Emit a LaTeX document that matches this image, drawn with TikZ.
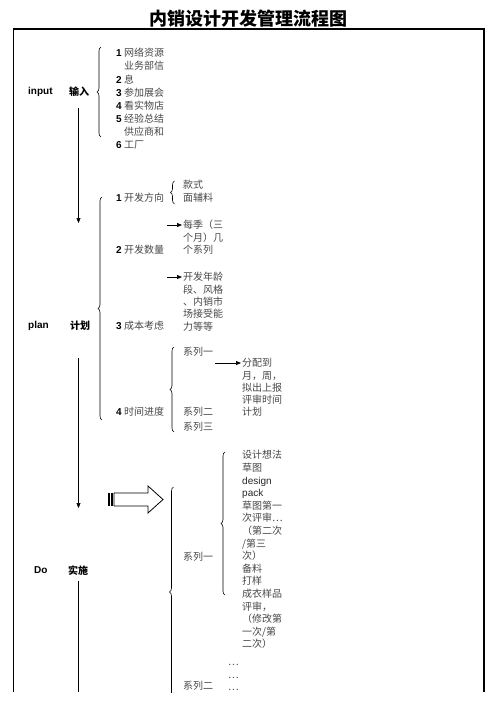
\documentclass[tikz,border=0pt]{standalone}
\usepackage{fontspec}
\setmainfont{Liberation Sans}
\newfontfamily\cjk{Noto Sans CJK SC}
\usetikzlibrary{arrows.meta,decorations.pathreplacing}
\newcommand\nb[1]{{\rmfamily\bfseries\color{black}#1}}
\newcommand\ind{\hphantom{\nb{1}\ }}
\newcommand\lat[1]{{\rmfamily\color{black!85}#1}}
\newcommand\stk[5]{\foreach \itm [count=\i] in {#5}{\node[tx] (#1\i) at (#2,{#3+(\i-1)*(#4)}) {\itm};}}
\begin{document}
\begin{tikzpicture}[x=1pt,y=-1pt,
  txt/.style={inner sep=0pt, font=\cjk\fontsize{10}{12}\selectfont, text=black!72},
  tx/.style={txt, anchor=base west},
  lab/.style={inner sep=0pt, font=\bfseries\fontsize{10}{12}\selectfont, anchor=base west},
  cnlab/.style={inner sep=0pt, font=\cjk\bfseries\fontsize{10}{12}\selectfont, anchor=base west},
  arr/.style={-{Triangle[length=5pt,width=4pt]}, line width=0.7pt},
  brc/.style={decorate, decoration={brace, amplitude=4pt}, line width=0.6pt},
  frm/.style={line width=1.8pt}]
\useasboundingbox (0,0) rectangle (496,702);
% title and frame
\node[font=\cjk\bfseries\fontsize{18}{20}\selectfont, anchor=base, inner sep=0pt] (title) at (248.5,25.5) {内销设计开发管理流程图};
\draw[frm] (13.5,692) -- (13.5,29) -- (484,29) -- (484,692);
% stage labels
\node[lab] (lin) at (28,94) {input};
\node[cnlab] (cin) at (69,95) {输入};
\node[lab] (lpl) at (28,328) {plan};
\node[cnlab] (cpl) at (70,329) {计划};
\node[lab] (ldo) at (34,573.6) {Do};
\node[cnlab] (cdo) at (68,574) {实施};
% stage connectors
\coordinate (a1s) at (78.5,108);
\coordinate (a1e) at (78.5,223);
\coordinate (a2s) at (78.5,358);
\coordinate (a2e) at (78.5,508);
\coordinate (a3s) at (78.5,581);
\coordinate (a3e) at (78.5,692);
\draw[arr] (a1s) -- (a1e);
\draw[arr] (a2s) -- (a2e);
\draw[line width=0.7pt] (a3s) -- (a3e);
% input
\draw[brc] (101,137) -- (101,47);
\stk{in}{116}{56.8}{13.1}{{\nb{1} 网络资源},{\ind 业务部信},{\nb{2} 息},{\nb{3} 参加展会},{\nb{4} 看实物店},{\nb{5} 经验总结},{\ind 供应商和},{\nb{6} 工厂}}
% plan
\draw[brc] (102,420) -- (102,197);
\node[tx] (p1) at (116,201.8) {\nb{1} 开发方向};
\draw[brc] (174.5,204) -- (174.5,181);
\stk{kd}{183}{188.3}{13}{款式,面辅料}
\node[tx] (p2) at (116,253.8) {\nb{2} 开发数量};
\stk{qt}{183}{228.8}{12.5}{每季（三,个月）几,个系列}
\coordinate (s1) at (167,225);
\draw[arr] (s1) -- ([xshift=-1pt]s1 -| qt1.west);
\node[tx] (p3) at (116,329.8) {\nb{3} 成本考虑};
\stk{cb}{183}{280.8}{12.3}{开发年龄,段、风格,、内销市,场接受能,力等等}
\coordinate (s2) at (167,277);
\draw[arr] (s2) -- ([xshift=-1pt]s2 -| cb1.west);
\node[tx] (p4) at (116,415.8) {\nb{4} 时间进度};
\draw[brc] (174,432) -- (174,347);
\node[tx] (x1) at (183,355.8) {系列一};
\node[tx] (x2) at (183,415.8) {系列二};
\node[tx] (x3) at (183,430.8) {系列三};
\stk{fp}{242}{366.8}{12.25}{分配到,月，周，,拟出上报,评审时间,计划}
\coordinate (s3) at (215,363);
\draw[arr] (s3) -- ([xshift=-1pt]s3 -| fp1.west);
% do
\draw[line width=0.8pt, fill=white] (114,493) -- (148,493) -- (148,486) -- (163,499.5) -- (148,513) -- (148,506) -- (114,506) -- cycle;
\fill (107.5,493) rectangle (110,506);
\fill (111.3,493) rectangle (112.8,506);
\begin{scope}
\clip (0,0) rectangle (496,692);
\draw[brc] (173.5,697) -- (173.5,487);
\end{scope}
\node[tx] (d1) at (183,560.8) {系列一};
\draw[brc] (225,595) -- (225,452);
\stk{ds}{242}{458.8}{12.6}{设计想法,草图,{\lat{design}},{\lat{pack}},草图第一,次评审…,（第二次,/第三,次）,备料,打样,成衣样品,评审，,（修改第,一次/第,二次）}
\node[tx] (e1) at (228,665) {…};
\node[tx] (e2) at (228,678) {…};
\node[tx] (e3) at (228,690) {…};
\node[tx] (d2) at (183,689) {系列二};
\end{tikzpicture}
\end{document}
